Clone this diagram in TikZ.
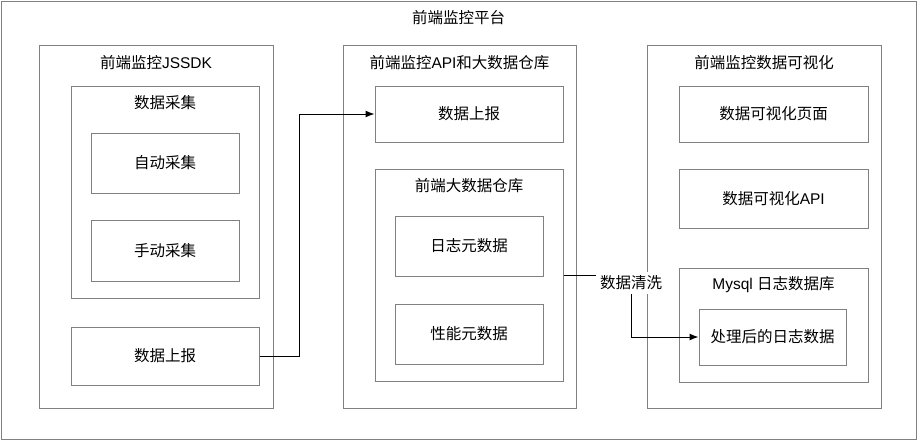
\documentclass[tikz,border=0pt]{standalone}
\usepackage{fontspec}
\setmainfont{Noto Sans CJK SC}
\newfontfamily\latinfont{Liberation Sans}
\usepackage{tikz}
\usetikzlibrary{arrows.meta, positioning}
\definecolor{linegray}{RGB}{128,128,128}

\tikzset{
  box/.style={draw=linegray, line width=1pt, inner sep=0pt},
  title/.style={inner sep=0pt},
  tag/.style={fill=white, inner sep=4pt},
  flow/.style={draw=black, line width=1pt, -{Latex[length=9pt, width=7pt]}}
}

\begin{document}
\begin{tikzpicture}[x=1pt, y=-1pt, font=\fontsize{15.5}{18}\selectfont]

    \useasboundingbox (0,0) rectangle (917,440);

    % Marco general
    \node[box, minimum width=915pt, minimum height=438pt] (platform) at (458.5,220) {};
    \node[title] at ([yshift=-17pt]platform.north) {前端监控平台};

    % Columna 1: JSSDK
    \node[box, minimum width=234pt, minimum height=363pt] (sdk) at (156,226.5) {};
    \node[title] at ([yshift=-18pt]sdk.north) {前端监控{\latinfont JSSDK}};
    \node[box, minimum width=188pt, minimum height=212pt] (collect) at (165,192) {};
    \node[title] at ([yshift=-17pt]collect.north) {数据采集};
    \node[box, minimum width=148pt, minimum height=60pt] (auto) at (165,163) {自动采集};
    \node[box, minimum width=148pt, minimum height=61pt] (manual) at (165,250.5) {手动采集};
    \node[box, minimum width=188pt, minimum height=58pt] (report) at (165,356) {数据上报};

    % Columna 2: API y almacén
    \node[box, minimum width=233pt, minimum height=363pt] (api) at (459.5,226.5) {};
    \node[title] at ([yshift=-18pt]api.north) {前端监控{\latinfont API}和大数据仓库};
    \node[box, minimum width=188pt, minimum height=56pt] (receive) at (469,114) {数据上报};
    \node[box, minimum width=188pt, minimum height=212pt] (store) at (469,275) {};
    \node[title] at ([yshift=-17pt]store.north) {前端大数据仓库};
    \node[box, minimum width=148pt, minimum height=60pt] (logmeta) at (469,246) {日志元数据};
    \node[box, minimum width=148pt, minimum height=60pt] (perfmeta) at (469,334) {性能元数据};

    % Columna 3: visualización
    \node[box, minimum width=234pt, minimum height=363pt] (vis) at (764,226.5) {};
    \node[title] at ([yshift=-18pt]vis.north) {前端监控数据可视化};
    \node[box, minimum width=189pt, minimum height=56pt] (vispage) at (773.5,114) {数据可视化页面};
    \node[box, minimum width=189pt, minimum height=59pt] (visapi) at (773.5,198.5) {数据可视化{\latinfont API}};
    \node[box, minimum width=189pt, minimum height=114pt] (mysql) at (773.5,325) {};
    \node[title] at ([yshift=-17pt]mysql.north) {{\latinfont Mysql\ }日志数据库};
    \node[box, minimum width=147pt, minimum height=56pt] (cleaned) at (772.5,337) {处理后的日志数据};

    % Flechas
    \draw[flow] (report.east) -- ++(40,0) |- (receive.west);
    \node[tag] (wash) at (631,283) {数据清洗};
    \draw[line width=1pt] (store.east) -- (wash.west |- store.east);
    \draw[flow] (wash.south) |- (cleaned.west);

\end{tikzpicture}
\end{document}
